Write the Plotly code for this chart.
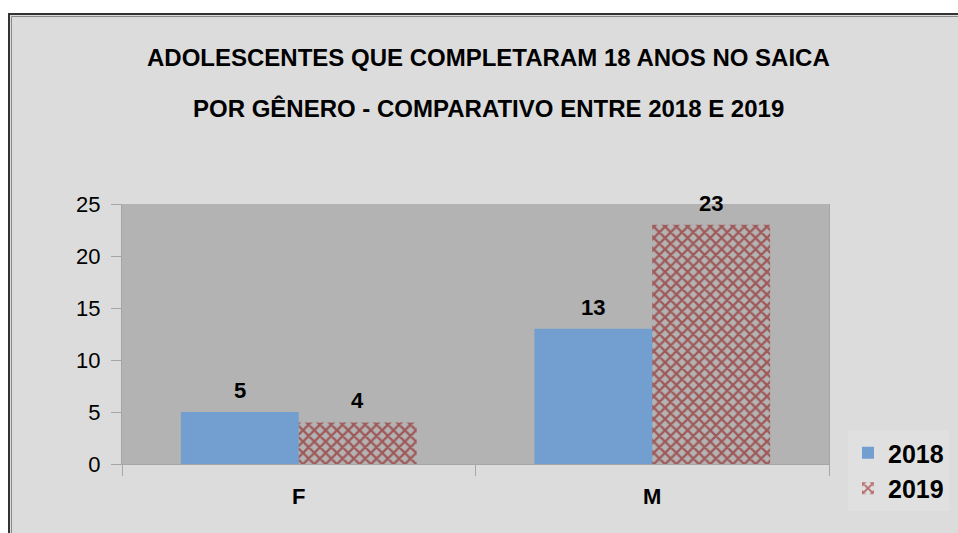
import plotly.graph_objects as go

categories = ["F", "M"]
series_names = ["2018", "2019"]
values_2018 = [5, 13]
values_2019 = [4, 23]
y_ticks = [0, 5, 10, 15, 20, 25]
title_line1 = "ADOLESCENTES QUE COMPLETARAM 18 ANOS NO SAICA"
title_line2 = "POR GÊNERO - COMPARATIVO ENTRE 2018 E 2019"

# page body margin is removed below, so the figure fills the whole window
W, H = 958, 533
L, T = 122, 204
R = W - 829
B = H - 464
PW, PH = W - L - R, H - T - B

def px(x):
    return (x - L) / PW

def py(y):
    return (H - B - y) / PH

FONT = "Liberation Sans, Arial, sans-serif"
BG = "#dcdcdc"
PLOT_BG = "#b3b3b3"

fig = go.Figure()
fig.add_trace(go.Bar(
    x=categories, y=values_2018, name=series_names[0],
    marker=dict(color="#729fcf", line=dict(width=0)),
))
fig.add_trace(go.Bar(
    x=categories, y=values_2019, name=series_names[1],
    marker=dict(color="rgba(0,0,0,0)", line=dict(width=0),
                pattern=dict(shape="x", fgcolor="#8b0000", bgcolor="rgba(0,0,0,0)",
                             size=8, solidity=0.5)),
))

annotations = []
for vals, shift in ((values_2018, -59), (values_2019, 59)):
    for c, v in zip(categories, vals):
        annotations.append(dict(
            x=c, y=v, xref="x", yref="y", text=f"<b>{v}</b>", showarrow=False,
            xshift=shift, yshift=7, yanchor="bottom",
            font=dict(family=FONT, size=22, color="black"),
        ))
annotations.append(dict(x=px(488), y=py(57), xref="paper", yref="paper",
                        text=f"<b>{title_line1}</b>", showarrow=False,
                        xanchor="center", yanchor="middle",
                        font=dict(family=FONT, size=24, color="black")))
annotations.append(dict(x=px(488), y=py(109), xref="paper", yref="paper",
                        text=f"<b>{title_line2}</b>", showarrow=False,
                        xanchor="center", yanchor="middle",
                        font=dict(family=FONT, size=24, color="black")))

shapes = [
    # white page area above / left of the chart frame
    dict(type="rect", xref="paper", yref="paper", x0=px(-20), x1=px(980), y0=py(13), y1=py(-20),
         fillcolor="white", line=dict(width=0), layer="above"),
    dict(type="rect", xref="paper", yref="paper", x0=px(-20), x1=px(8), y0=py(560), y1=py(-20),
         fillcolor="white", line=dict(width=0), layer="above"),
    # outer dark frame (top and left edges only; others are off-page)
    dict(type="line", xref="paper", yref="paper", x0=px(9), x1=px(990), y0=py(14), y1=py(14),
         line=dict(color="#333333", width=2), layer="above"),
    dict(type="line", xref="paper", yref="paper", x0=px(9), x1=px(9), y0=py(13), y1=py(560),
         line=dict(color="#333333", width=2), layer="above"),
    # inner grey frame
    dict(type="line", xref="paper", yref="paper", x0=px(11.5), x1=px(990), y0=py(16.5), y1=py(16.5),
         line=dict(color="#8a8a8a", width=1), layer="above"),
    dict(type="line", xref="paper", yref="paper", x0=px(11.5), x1=px(11.5), y0=py(16.5), y1=py(560),
         line=dict(color="#8a8a8a", width=1), layer="above"),
]

fig.update_layout(
    width=W, height=H,
    margin=dict(l=L, r=R, t=T, b=B, pad=0, autoexpand=False),
    paper_bgcolor=BG, plot_bgcolor=PLOT_BG,
    barmode="group", bargap=0.333, bargroupgap=0,
    showlegend=True,
    legend=dict(x=px(949), y=py(430), xanchor="right", yanchor="top",
                bgcolor="#e0e0e0", font=dict(family=FONT, size=25, color="black", weight="bold"),
                itemwidth=30, tracegroupgap=0),
    annotations=annotations,
    shapes=shapes,
    font=dict(family=FONT, color="black"),
)
fig.update_xaxes(
    type="category", showgrid=False, showline=True, linecolor="#a6a6a6", linewidth=1,
    ticks="outside", tickson="boundaries", ticklen=11, tickcolor="#a6a6a6",
    tickfont=dict(family=FONT, size=22, color="black", weight="bold"),
    ticklabelstandoff=13,
)
fig.update_yaxes(
    range=[0, 25], tickvals=y_ticks, showgrid=False, zeroline=False,
    showline=True, linecolor="#a6a6a6", linewidth=1, mirror=True,
    ticks="outside", ticklen=10, tickcolor="#a6a6a6",
    tickfont=dict(family=FONT, size=22, color="black"),
    ticklabelstandoff=6,
)

fig.write_html("out.html",
               config={"displayModeBar": False},
               post_script="document.body.style.margin='0';"
                           "document.documentElement.style.overflow='hidden';"
                           "document.body.style.overflow='hidden';")
